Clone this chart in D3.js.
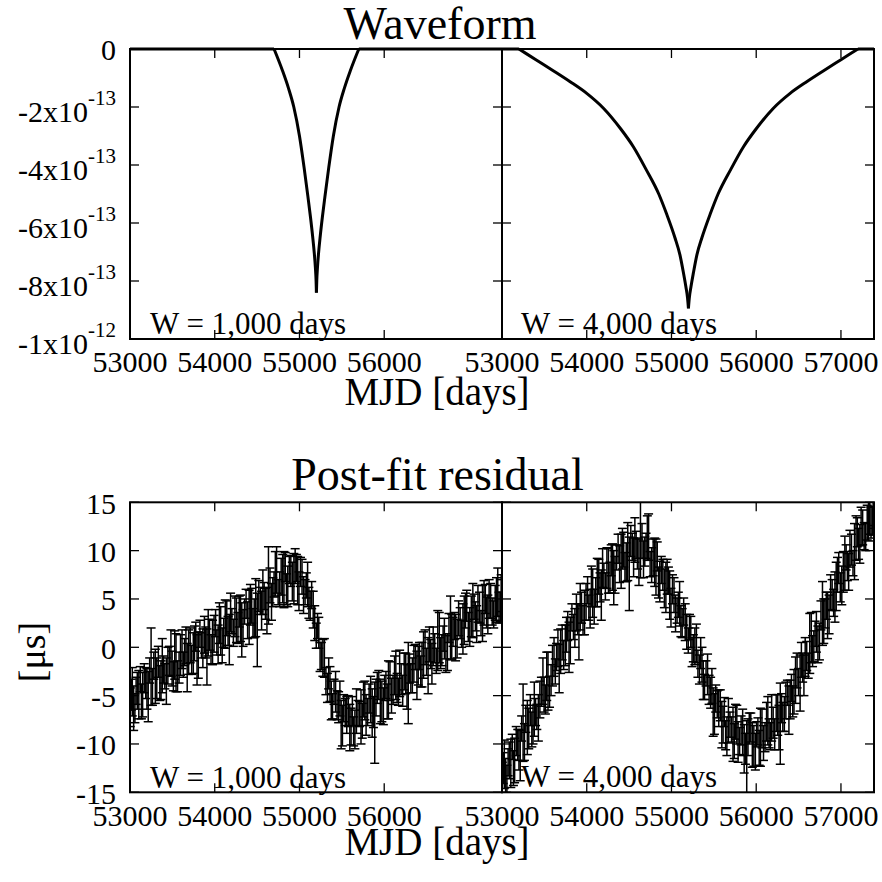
<!DOCTYPE html>
<html><head><meta charset="utf-8">
<script src="https://cdn.jsdelivr.net/npm/d3@7"></script>
<style>
body{margin:0;background:#fff}
text{font-family:"Liberation Serif","Times New Roman",serif;fill:#000}
</style>
</head><body>
<svg id="chart" width="882" height="882"></svg>
<script>
// ---------------- data ----------------
const xDomain = [53000, 57390];
const xTicksLeft = [53000, 54000, 55000, 56000];
const xTicksRight = [53000, 54000, 55000, 56000, 57000];
const wfYTicks = [0, -2e-13, -4e-13, -6e-13, -8e-13, -1e-12];
const wfYTickMain = ["0", "-2x10", "-4x10", "-6x10", "-8x10", "-1x10"];
const wfYTickExp = ["", "-13", "-13", "-13", "-13", "-12"];
const resYTicks = [15, 10, 5, 0, -5, -10, -15];
const panelLabels = ["W = 1,000 days", "W = 4,000 days"];

// waveform W = 1000 days
const wf1000Mjd = [53000, 54700, 54800, 54870, 54933, 55000, 55055, 55100, 55130, 55155, 55175, 55188, 55196, 55200,
  55204, 55212, 55225, 55245, 55270, 55300, 55345, 55400, 55467, 55530, 55600, 55700, 57390];
const wf1000Val = [0, 0, -0.75e-13, -1.35e-13, -2.0e-13, -3.0e-13, -4.1e-13, -5.1e-13, -5.8e-13, -6.45e-13, -7.05e-13, -7.55e-13, -8.0e-13, -8.4e-13,
  -8.0e-13, -7.55e-13, -7.05e-13, -6.45e-13, -5.8e-13, -5.1e-13, -4.1e-13, -3.0e-13, -2.0e-13, -1.35e-13, -0.75e-13, 0, 0];
// waveform W = 4000 days
const wf4000Mjd = [53000, 53200, 53400, 53600, 53800, 54000, 54200, 54400, 54550, 54700, 54850, 54944, 55040, 55100, 55140, 55170, 55190, 55200,
  55210, 55230, 55260, 55300, 55360, 55456, 55550, 55700, 55850, 56000, 56200, 56400, 56600, 56800, 57000, 57200, 57390];
const wf4000Val = [0, 0, -0.37e-13, -0.74e-13, -1.12e-13, -1.53e-13, -2.05e-13, -2.75e-13, -3.37e-13, -4.15e-13, -5.0e-13, -5.7e-13, -6.5e-13, -7.1e-13, -7.7e-13, -8.2e-13, -8.6e-13, -8.94e-13,
  -8.6e-13, -8.2e-13, -7.7e-13, -7.1e-13, -6.5e-13, -5.7e-13, -5.0e-13, -4.15e-13, -3.37e-13, -2.75e-13, -2.05e-13, -1.53e-13, -1.12e-13, -0.74e-13, -0.37e-13, 0, 0];

// post-fit residuals, TOA set A (same TOAs for both fits)
const mjdA = [53003,53027,53058,53086,53121,53149,53186,53215,53249,53281,53316,53352,53381,53411,53447,53483,53512,53543,53579,53614,
  53644,53675,53710,53747,53776,53806,53843,53878,53908,53938,53974,54010,54040,54070,54106,54142,54172,54202,54238,54274,
  54304,54334,54370,54406,54436,54466,54502,54538,54568,54598,54634,54670,54700,54730,54766,54802,54832,54862,54898,54934,
  54964,54994,55030,55066,55096,55126,55162,55198,55228,55258,55294,55330,55360,55390,55426,55462,55492,55522,55558,55594,
  55624,55654,55690,55726,55756,55786,55822,55858,55888,55918,55954,55990,56020,56050,56086,56122,56152,56182,56218,56254,
  56284,56314,56350,56386,56416,56446,56482,56518,56548,56578,56614,56650,56680,56710,56746,56782,56812,56842,56878,56914,
  56944,56974,57010,57046,57076,57106,57142,57178,57208,57238,57274,57310,57340,57370,57388];
const errA = [2.0,2.5,1.5,1.9,1.3,2.3,1.6,2.6,4.0,1.4,2.1,1.8,2.8,1.3,1.9,2.4,1.5,3.0,1.6,2.0,
  1.4,2.5,1.8,2.1,1.5,2.4,1.3,1.9,2.9,1.6,2.3,1.4,2.0,2.5,1.5,1.8,2.6,1.3,2.1,1.6,
  2.4,1.9,1.5,2.8,1.8,2.0,3.8,1.4,2.3,1.6,4.0,1.9,1.3,2.4,1.8,2.5,1.5,2.1,1.6,2.6,
  1.4,2.0,1.8,1.3,2.3,1.5,1.9,1.3,1.6,1.4,2.0,1.5,1.8,1.3,2.1,1.6,2.5,1.4,1.9,2.4,
  1.5,2.0,1.3,2.8,1.8,2.1,1.5,2.5,4.2,1.6,2.3,1.9,1.4,3.0,1.8,2.0,1.5,2.4,1.6,2.1,
  4.2,1.5,1.9,2.5,1.4,2.3,1.8,2.9,1.5,2.0,1.3,2.6,1.6,2.1,1.9,3.3,1.5,2.4,1.8,1.4,
  2.5,1.6,2.0,2.8,1.5,1.9,1.3,2.3,1.6,2.0,1.4,1.8,2.5,1.5,1.9];
const resA1000 = [-6.2,-4.6,-6.3,-4.5,-3.3,-4.9,-3.7,-5.1,-2.0,-1.9,-3.2,-3.7,-1.9,-3.0,-1.9,-0.6,-3.0,-1.6,-2.1,-0.2,
  -0.5,-2.1,0.2,-0.6,1.1,-0.8,0.2,1.3,-1.0,1.3,0.5,2.5,0.3,1.7,1.5,3.0,0.8,2.7,3.2,2.0,
  3.0,2.0,4.5,3.1,4.3,3.0,1.8,4.8,5.7,4.5,6.4,4.7,6.5,8.0,6.0,7.1,8.3,6.3,7.9,7.1,
  8.2,5.8,7.3,5.7,6.5,4.3,3.9,1.2,1.5,-0.9,-1.1,-4.2,-3.8,-6.1,-4.6,-6.2,-8.0,-6.3,-7.0,-8.3,
  -6.6,-8.5,-6.8,-7.2,-5.4,-7.0,-5.3,-6.8,-7.8,-4.2,-5.6,-6.1,-3.9,-4.4,-5.0,-2.9,-4.2,-2.7,-4.5,-2.7,
  -3.7,-3.2,-1.7,-2.9,-0.9,-1.8,0.0,-1.9,-0.7,0.1,-1.4,1.0,-0.3,0.9,-0.5,2.0,1.6,1.0,3.0,1.4,
  2.8,4.3,2.1,3.8,3.2,4.5,2.5,4.6,3.6,5.0,3.7,4.6,5.7,4.2,5.1];
const resA4000 = [-13.9,-12.1,-13.7,-11.7,-10.3,-11.7,-10.1,-11.2,-7.8,-7.4,-8.4,-8.5,-6.4,-7.2,-5.4,-3.5,-5.4,-3.5,-3.4,-1.0,
  -1.0,-2.2,0.5,0.2,2.2,0.7,2.1,3.6,1.6,4.1,3.6,5.9,4.0,5.6,5.7,7.3,5.4,7.4,8.2,7.2,
  8.3,7.5,10.2,8.9,10.1,8.8,7.6,10.4,11.1,9.7,11.2,9.1,10.5,11.4,8.5,8.8,9.4,6.8,7.5,6.2,
  6.9,4.1,5.4,3.8,4.5,2.5,2.6,0.7,1.6,-0.1,0.4,-2.3,-1.8,-4.1,-2.8,-4.7,-6.7,-5.3,-6.3,-8.0,
  -6.7,-9.2,-8.0,-9.0,-7.7,-9.8,-8.6,-10.5,-11.8,-8.4,-10.1,-10.8,-8.7,-9.3,-9.9,-7.7,-8.9,-7.3,-9.0,-7.0,
  -7.9,-7.2,-5.5,-6.5,-4.2,-4.6,-2.4,-3.7,-2.1,-1.0,-1.9,1.0,0.1,1.6,0.6,3.5,3.5,3.3,5.7,4.6,
  6.3,8.2,6.4,8.7,8.4,10.2,8.7,11.3,10.7,12.5,11.5,12.9,14.2,13.1,14.2];

// TOA set B
const mjdB = [53015,53043,53072,53104,53135,53168,53200,53232,53265,53299,53334,53366,53396,53429,53465,53497,53528,53561,53596,53629,
  53660,53692,53728,53761,53791,53825,53860,53893,53923,53956,53992,54025,54055,54088,54124,54157,54187,54220,54256,54289,
  54319,54352,54388,54421,54451,54484,54520,54553,54583,54616,54652,54685,54715,54748,54784,54817,54847,54880,54916,54949,
  54979,55012,55048,55081,55111,55144,55180,55213,55243,55276,55312,55345,55375,55408,55444,55477,55507,55540,55576,55609,
  55639,55672,55708,55741,55771,55804,55840,55873,55903,55936,55972,56005,56035,56068,56104,56137,56167,56200,56236,56269,
  56299,56332,56368,56401,56431,56464,56500,56533,56563,56596,56632,56665,56695,56728,56764,56797,56827,56860,56896,56929,
  56959,56992,57028,57061,57091,57124,57160,57193,57223,57256,57292,57325,57355,57380];
const errB = [1.6,2.3,1.4,2.5,1.8,1.5,2.1,1.3,1.9,2.8,1.6,2.0,1.4,2.4,1.5,1.8,2.5,1.6,2.1,1.3,
  1.9,2.3,1.5,1.8,2.6,1.4,2.0,1.6,2.4,1.5,1.9,1.3,2.1,1.8,2.5,1.5,2.0,1.4,2.3,1.6,
  2.8,1.3,1.9,2.1,1.5,3.0,1.6,2.0,1.4,2.4,1.8,1.5,2.3,1.3,1.9,2.9,1.6,1.4,2.0,1.8,
  2.5,1.5,1.9,1.3,1.6,1.4,1.8,1.3,1.5,1.9,1.4,1.6,2.0,1.3,1.5,1.8,2.1,1.4,1.6,1.9,
  1.5,2.3,1.3,1.8,2.0,1.4,2.4,1.6,1.9,1.5,2.1,1.3,1.8,2.0,1.5,2.5,1.4,1.6,1.9,2.3,
  1.5,1.8,1.3,2.0,1.6,2.4,1.4,1.8,2.1,1.5,3.1,1.6,1.3,1.9,1.5,2.3,1.4,2.0,1.6,2.6,
  1.8,1.5,2.1,1.3,1.9,1.6,2.9,1.5,2.0,1.8,1.4,2.3,1.6,1.9];
const resB1000 = [-4.9,-6.3,-4.5,-4.9,-5.6,-3.2,-4.3,-2.4,-4.1,-3.0,-1.5,-3.4,-2.3,-3.5,-1.4,-2.2,-0.8,-3.0,-0.8,-1.8,
  0.2,-0.5,-1.3,0.4,-1.3,1.4,-0.1,0.5,1.5,-0.2,1.4,0.5,2.5,0.2,2.4,1.7,3.6,1.5,2.8,3.7,
  1.8,3.7,2.8,4.4,2.5,4.1,5.3,3.8,5.3,3.8,6.4,5.7,7.6,5.7,7.3,7.0,6.0,8.0,6.8,8.4,
  6.9,7.8,5.4,6.4,4.6,5.4,2.5,2.2,-1.0,-1.1,-3.5,-2.7,-5.5,-4.6,-6.0,-5.3,-8.1,-6.7,-6.6,-8.2,
  -8.7,-6.6,-6.9,-7.6,-5.5,-6.7,-5.4,-6.7,-5.2,-3.9,-5.6,-4.2,-5.6,-3.5,-4.4,-2.9,-4.6,-3.3,-2.5,-4.1,
  -2.2,-2.9,-1.0,-1.9,-2.5,-0.8,-1.5,0.3,-1.7,-0.1,0.7,-0.6,0.9,-0.7,2.0,1.1,2.2,0.9,2.5,1.9,
  3.8,2.1,3.2,4.2,2.4,4.1,3.5,5.0,3.4,4.8,3.4,4.9,4.1,5.6];
const resB4000 = [-12.5,-13.8,-11.9,-12.0,-12.5,-9.7,-10.6,-8.4,-9.8,-8.3,-6.5,-8.0,-6.7,-7.3,-4.6,-4.9,-3.0,-4.6,-1.9,-2.5,
  -0.1,-0.4,-0.8,1.3,0.0,3.1,2.0,2.9,4.2,2.8,4.7,4.1,6.3,4.2,6.7,6.2,8.2,6.3,7.9,9.0,
  7.2,9.3,8.6,10.2,8.3,9.9,11.0,9.3,10.6,8.8,11.0,9.9,11.3,8.6,9.3,8.3,6.7,8.0,6.1,7.3,
  5.4,6.0,3.5,4.4,2.7,3.7,1.6,2.1,-0.5,0.1,-1.7,-0.6,-3.4,-2.7,-4.4,-4.0,-6.9,-5.9,-6.0,-8.0,
  -9.1,-7.6,-8.5,-9.7,-8.0,-9.7,-8.8,-10.5,-9.3,-8.3,-10.2,-9.0,-10.4,-8.4,-9.3,-7.6,-9.2,-7.8,-6.8,-8.3,
  -6.3,-6.9,-4.7,-5.4,-5.6,-3.4,-3.6,-1.3,-2.9,-0.9,0.4,-0.4,1.4,0.3,3.3,2.7,4.3,3.4,5.4,5.2,
  7.5,6.2,7.8,9.3,7.8,10.1,9.9,11.9,10.7,12.4,11.4,13.3,12.9,14.5];

// ---------------- layout ----------------
const svg = d3.select("#chart");
const L = {x0: 130, xm: 502, x1: 874};
const topY = {t: 49, b: 339};
const botY = {t: 502.3, b: 792.3};
const TICK = 9;

const xLeft = d3.scaleLinear().domain(xDomain).range([L.x0, L.xm]);
const xRight = d3.scaleLinear().domain(xDomain).range([L.xm, L.x1]);
const yWf = d3.scaleLinear().domain([-1e-12, 0]).range([topY.b, topY.t]);
const yRes = d3.scaleLinear().domain([-15, 15]).range([botY.b, botY.t]);

function frame(x, y, xTicks, yTicks) {
  const g = svg.append("g");
  const [xa, xb] = x.range(); const [ya, yb] = y.range();
  xTicks.forEach(t => {
    const px = x(t);
    g.append("line").attr("x1", px).attr("x2", px).attr("y1", ya).attr("y2", ya - TICK);
    g.append("line").attr("x1", px).attr("x2", px).attr("y1", yb).attr("y2", yb + TICK);
  });
  yTicks.forEach(t => {
    const py = y(t);
    g.append("line").attr("x1", xa).attr("x2", xa + TICK).attr("y1", py).attr("y2", py);
    g.append("line").attr("x1", xb).attr("x2", xb - TICK).attr("y1", py).attr("y2", py);
  });
  g.selectAll("line").attr("stroke", "#000").attr("stroke-width", 1.3);
  g.append("rect").attr("x", xa).attr("y", yb).attr("width", xb - xa).attr("height", ya - yb)
    .attr("fill", "none").attr("stroke", "#000").attr("stroke-width", 2);
}

function xTickLabels(x, ticks, yBase) {
  svg.append("g").selectAll("text").data(ticks).join("text")
    .attr("x", d => x(d)).attr("y", yBase).attr("text-anchor", "middle")
    .attr("font-size", 30).text(d => d);
}

function clipFor(id, x, y) {
  const [xa, xb] = x.range(); const [ya, yb] = y.range();
  svg.append("clipPath").attr("id", id).append("rect")
    .attr("x", xa).attr("y", yb).attr("width", xb - xa).attr("height", ya - yb);
}

function waveform(x, ms, vs) {
  const pts = ms.map((m, i) => [m, vs[i]]);
  const iMin = d3.minIndex(vs);
  const a = vs.findIndex(v => v !== 0) - 1;
  const b = vs.length - [...vs].reverse().findIndex(v => v !== 0);
  const line = d3.line().x(d => x(d[0])).y(d => yWf(d[1])).curve(d3.curveMonotoneX);
  const g = svg.append("g");
  [pts.slice(0, a + 1), pts.slice(a, iMin + 1), pts.slice(iMin, b + 1), pts.slice(b)].forEach(seg => {
    g.append("path").attr("d", line(seg)).attr("fill", "none")
      .attr("stroke", "#000").attr("stroke-width", 3).attr("stroke-linejoin", "round");
  });
}

function residuals(x, ms, vals, errs, clipId) {
  const g = svg.append("g").attr("clip-path", `url(#${clipId})`)
    .attr("stroke", "#000").attr("stroke-width", 1.5);
  const cap = 4.5;
  ms.forEach((m, i) => {
    const px = x(m), lo = yRes(vals[i] - errs[i]), hi = yRes(vals[i] + errs[i]);
    g.append("line").attr("x1", px).attr("x2", px).attr("y1", lo).attr("y2", hi);
    g.append("line").attr("x1", px - cap).attr("x2", px + cap).attr("y1", lo).attr("y2", lo);
    g.append("line").attr("x1", px - cap).attr("x2", px + cap).attr("y1", hi).attr("y2", hi);
  });
}

clipFor("cBL", xLeft, yRes); clipFor("cBR", xRight, yRes);

// ---- top: waveform ----
waveform(xLeft, wf1000Mjd, wf1000Val);
waveform(xRight, wf4000Mjd, wf4000Val);
frame(xLeft, yWf, xTicksLeft, wfYTicks);
frame(xRight, yWf, xTicksRight, wfYTicks);

wfYTicks.forEach((t, i) => {
  const txt = svg.append("text").attr("x", 116).attr("text-anchor", "end").attr("font-size", 30);
  if (wfYTickExp[i] === "") {
    txt.attr("y", yWf(t) + 11).text(wfYTickMain[i]);
  } else {
    txt.attr("y", yWf(t) + 14.5);
    txt.append("tspan").text(wfYTickMain[i]);
    txt.append("tspan").attr("dy", -16.5).attr("font-size", 21).text(wfYTickExp[i]);
  }
});
xTickLabels(xLeft, xTicksLeft, topY.b + 33);
xTickLabels(xRight, xTicksRight, topY.b + 33);

svg.append("text").attr("x", 150).attr("y", 334).attr("font-size", 31).text(panelLabels[0]);
svg.append("text").attr("x", 521).attr("y", 334).attr("font-size", 31).text(panelLabels[1]);
svg.append("text").attr("x", 440).attr("y", 39).attr("text-anchor", "middle").attr("font-size", 46).text("Waveform");
svg.append("text").attr("x", 437).attr("y", 405).attr("text-anchor", "middle").attr("font-size", 39).text("MJD [days]");

// ---- bottom: residuals ----
residuals(xLeft, mjdA, resA1000, errA, "cBL");
residuals(xLeft, mjdB, resB1000, errB, "cBL");
residuals(xRight, mjdA, resA4000, errA, "cBR");
residuals(xRight, mjdB, resB4000, errB, "cBR");
frame(xLeft, yRes, xTicksLeft, resYTicks);
frame(xRight, yRes, xTicksRight, resYTicks);

svg.append("g").selectAll("text").data(resYTicks).join("text")
  .attr("x", 116).attr("y", d => yRes(d) + 11.5).attr("text-anchor", "end")
  .attr("font-size", 30).text(d => d);
xTickLabels(xLeft, xTicksLeft, botY.b + 34);
xTickLabels(xRight, xTicksRight, botY.b + 34);

svg.append("text").attr("x", 150).attr("y", 788).attr("font-size", 31).text(panelLabels[0]);
svg.append("text").attr("x", 521).attr("y", 787).attr("font-size", 31).text(panelLabels[1]);
svg.append("text").attr("x", 437.5).attr("y", 490).attr("text-anchor", "middle").attr("font-size", 46).text("Post-fit residual");
svg.append("text").attr("x", 437).attr("y", 855).attr("text-anchor", "middle").attr("font-size", 39).text("MJD [days]");
svg.append("text").attr("transform", "translate(45,652) rotate(-90)").attr("text-anchor", "middle")
  .attr("font-size", 38).text("[μs]");
</script>
</body></html>
